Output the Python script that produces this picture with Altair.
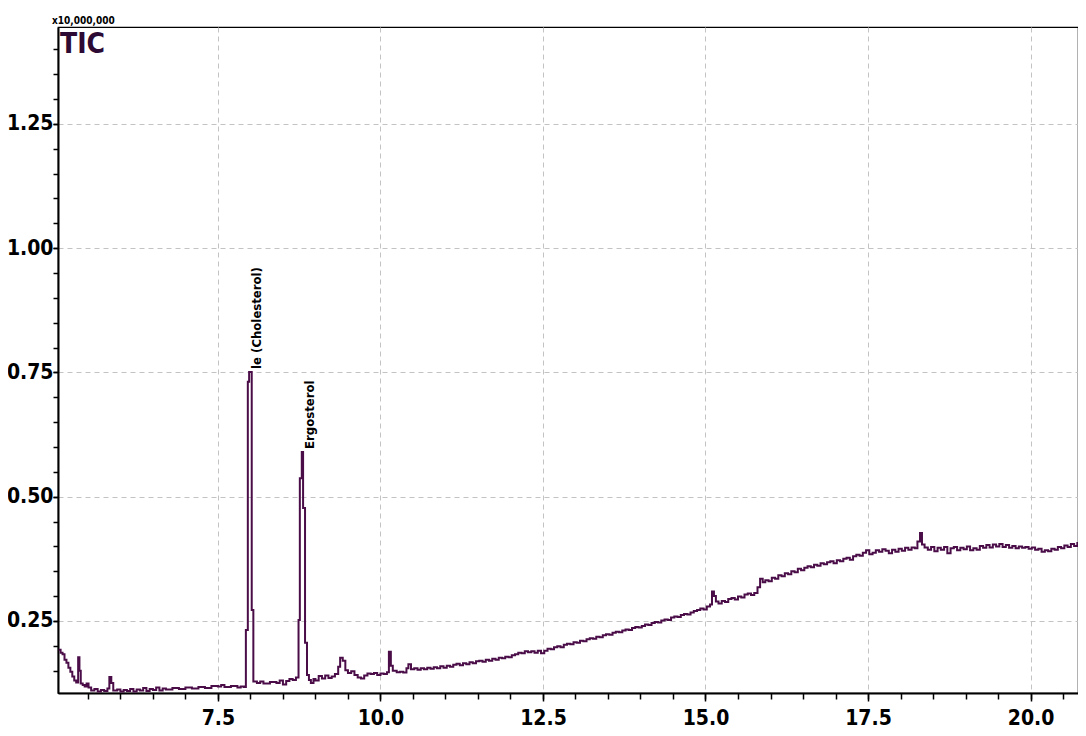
import altair as alt
import pandas as pd

# retention time (min)
times = [
    5.05, 5.08, 5.11, 5.14, 5.17, 5.20, 5.23, 5.26, 5.29, 5.32, 5.35, 5.37, 5.39, 5.42, 5.45, 5.48,
    5.51, 5.55, 5.60, 5.65, 5.70, 5.75, 5.80, 5.83, 5.86, 5.89, 5.95, 6.00, 6.05, 6.10, 6.15, 6.20,
    6.25, 6.30, 6.35, 6.40, 6.45, 6.50, 6.55, 6.60, 6.65, 6.70, 6.80, 6.90, 7.00, 7.10, 7.20, 7.30,
    7.40, 7.50, 7.55, 7.60, 7.70, 7.80, 7.85, 7.90, 7.93, 7.96, 7.98, 8.01, 8.02, 8.045, 8.10, 8.15,
    8.20, 8.30, 8.40, 8.45, 8.50, 8.55, 8.60, 8.65, 8.70, 8.74, 8.76, 8.79, 8.81, 8.84, 8.87, 8.90,
    8.93, 8.97, 9.00, 9.05, 9.10, 9.15, 9.20, 9.25, 9.30, 9.35, 9.38, 9.42, 9.46, 9.50, 9.55, 9.60,
    9.65, 9.70, 9.75, 9.80, 9.85, 9.90, 9.95, 10.00, 10.05, 10.10, 10.13, 10.16, 10.19, 10.25, 10.30, 10.35,
    10.40, 10.43, 10.47, 10.52, 10.57, 10.62, 10.67, 10.72, 10.77, 10.82, 10.87, 10.92, 10.97, 11.02, 11.07, 11.12,
    11.17, 11.22, 11.27, 11.32, 11.37, 11.42, 11.47, 11.52, 11.57, 11.62, 11.67, 11.72, 11.77, 11.82, 11.87, 11.92,
    11.97, 12.02, 12.07, 12.12, 12.17, 12.22, 12.27, 12.32, 12.37, 12.42, 12.47, 12.52, 12.57, 12.62, 12.67, 12.72,
    12.77, 12.82, 12.87, 12.92, 12.97, 13.02, 13.07, 13.12, 13.17, 13.22, 13.27, 13.32, 13.37, 13.42, 13.47, 13.52,
    13.57, 13.62, 13.67, 13.72, 13.77, 13.82, 13.87, 13.92, 13.97, 14.02, 14.07, 14.12, 14.17, 14.22, 14.27, 14.32,
    14.37, 14.42, 14.47, 14.52, 14.57, 14.62, 14.67, 14.72, 14.77, 14.82, 14.87, 14.92, 14.97, 15.02, 15.07, 15.10,
    15.13, 15.16, 15.20, 15.25, 15.30, 15.35, 15.40, 15.45, 15.50, 15.55, 15.60, 15.65, 15.70, 15.75, 15.80, 15.84,
    15.88, 15.92, 15.97, 16.02, 16.07, 16.12, 16.17, 16.22, 16.27, 16.32, 16.37, 16.42, 16.47, 16.52, 16.57, 16.62,
    16.67, 16.72, 16.77, 16.82, 16.87, 16.92, 16.97, 17.02, 17.07, 17.12, 17.17, 17.22, 17.27, 17.32, 17.37, 17.42,
    17.47, 17.52, 17.57, 17.62, 17.67, 17.72, 17.77, 17.82, 17.87, 17.92, 17.97, 18.02, 18.07, 18.12, 18.17, 18.22,
    18.26, 18.30, 18.33, 18.37, 18.42, 18.47, 18.52, 18.57, 18.62, 18.67, 18.72, 18.77, 18.82, 18.87, 18.92, 18.97,
    19.02, 19.07, 19.12, 19.17, 19.22, 19.27, 19.32, 19.37, 19.42, 19.47, 19.52, 19.57, 19.62, 19.67, 19.72, 19.77,
    19.82, 19.87, 19.92, 19.97, 20.02, 20.07, 20.12, 20.17, 20.22, 20.27, 20.32, 20.37, 20.42, 20.47, 20.52, 20.57,
    20.62, 20.67, 20.72, 20.77, 20.82, 20.86,
]

# total ion current (x10^7 counts)
tic = [
    0.192, 0.186, 0.183, 0.172, 0.166, 0.156, 0.148, 0.138, 0.130, 0.126, 0.177, 0.150, 0.124, 0.121, 0.118, 0.124,
    0.116, 0.110, 0.113, 0.108, 0.111, 0.109, 0.114, 0.137, 0.125, 0.110, 0.112, 0.108, 0.111, 0.109, 0.113, 0.108,
    0.112, 0.110, 0.115, 0.109, 0.113, 0.111, 0.116, 0.110, 0.114, 0.112, 0.115, 0.113, 0.116, 0.114, 0.117, 0.115,
    0.119, 0.118, 0.121, 0.117, 0.119, 0.116, 0.118, 0.117, 0.232, 0.731, 0.751, 0.751, 0.272, 0.128, 0.125, 0.128,
    0.124, 0.127, 0.125, 0.130, 0.122, 0.129, 0.133, 0.131, 0.136, 0.252, 0.537, 0.590, 0.477, 0.206, 0.141, 0.131,
    0.125, 0.133, 0.130, 0.139, 0.134, 0.140, 0.135, 0.138, 0.143, 0.158, 0.176, 0.170, 0.151, 0.145, 0.149, 0.141,
    0.136, 0.134, 0.140, 0.144, 0.143, 0.145, 0.141, 0.144, 0.143, 0.147, 0.188, 0.160, 0.150, 0.147, 0.148, 0.146,
    0.155, 0.163, 0.153, 0.155, 0.152, 0.155, 0.153, 0.156, 0.154, 0.157, 0.155, 0.159, 0.156, 0.160, 0.158, 0.162,
    0.164, 0.161, 0.165, 0.163, 0.167, 0.165, 0.169, 0.170, 0.168, 0.172, 0.170, 0.174, 0.172, 0.176, 0.175, 0.178,
    0.177, 0.181, 0.183, 0.186, 0.185, 0.189, 0.187, 0.189, 0.186, 0.190, 0.185, 0.190, 0.194, 0.193, 0.197, 0.199,
    0.197, 0.202, 0.204, 0.203, 0.207, 0.206, 0.210, 0.209, 0.213, 0.215, 0.214, 0.218, 0.217, 0.221, 0.223, 0.222,
    0.226, 0.228, 0.227, 0.231, 0.233, 0.232, 0.236, 0.238, 0.237, 0.240, 0.243, 0.242, 0.246, 0.248, 0.247, 0.251,
    0.253, 0.252, 0.257, 0.259, 0.258, 0.262, 0.264, 0.263, 0.267, 0.270, 0.272, 0.275, 0.273, 0.279, 0.283, 0.309,
    0.300, 0.289, 0.285, 0.290, 0.288, 0.294, 0.296, 0.293, 0.299, 0.297, 0.303, 0.305, 0.302, 0.306, 0.318, 0.335,
    0.328, 0.332, 0.330, 0.337, 0.335, 0.342, 0.340, 0.346, 0.344, 0.350, 0.348, 0.355, 0.352, 0.357, 0.360, 0.358,
    0.363, 0.361, 0.366, 0.364, 0.368, 0.370, 0.366, 0.372, 0.370, 0.375, 0.377, 0.373, 0.380, 0.383, 0.381, 0.387,
    0.392, 0.384, 0.387, 0.392, 0.389, 0.394, 0.391, 0.386, 0.393, 0.389, 0.395, 0.391, 0.397, 0.393, 0.398, 0.396,
    0.410, 0.427, 0.404, 0.398, 0.393, 0.399, 0.390, 0.397, 0.393, 0.399, 0.386, 0.396, 0.399, 0.392, 0.397, 0.394,
    0.400, 0.392, 0.396, 0.393, 0.401, 0.397, 0.403, 0.398, 0.404, 0.400, 0.405, 0.399, 0.403, 0.397, 0.401, 0.396,
    0.400, 0.397, 0.399, 0.395, 0.398, 0.393, 0.395, 0.389, 0.392, 0.390, 0.395, 0.393, 0.399, 0.396, 0.402, 0.399,
    0.405, 0.401, 0.407, 0.404, 0.411, 0.414,
]

x_tick_values = [5.5, 6.0, 6.5, 7.0, 7.5, 8.0, 8.5, 9.0, 9.5, 10.0, 10.5, 11.0, 11.5, 12.0, 12.5, 13.0,
                 13.5, 14.0, 14.5, 15.0, 15.5, 16.0, 16.5, 17.0, 17.5, 18.0, 18.5, 19.0, 19.5, 20.0, 20.5]
x_major_values = [7.5, 10.0, 12.5, 15.0, 17.5, 20.0]
y_tick_values = [0.15, 0.20, 0.25, 0.30, 0.35, 0.40, 0.45, 0.50, 0.55, 0.60, 0.65, 0.70, 0.75, 0.80,
                 0.85, 0.90, 0.95, 1.00, 1.05, 1.10, 1.15, 1.20, 1.25, 1.30, 1.35, 1.40]
y_major_values = [0.25, 0.50, 0.75, 1.00, 1.25]

peak_names = ["le (Cholesterol)", "Ergosterol"]
peak_times = [7.98, 8.79]
peak_heights = [0.751, 0.590]

trace_name = ["TIC"]
scale_label = ["x10,000,000"]

FONT = "Liberation Sans Narrow, Arial Narrow, DejaVu Sans Condensed, Liberation Sans, sans-serif"
LINE = "#4a0d48"
GRID = "#c3c3c3"

df = pd.DataFrame({"t": times, "v": tic})
peaks = pd.DataFrame({"name": peak_names, "t": peak_times, "v": peak_heights})

x_scale = alt.Scale(domain=[5.04, 20.73], nice=False, zero=False)
y_scale = alt.Scale(domain=[0.105, 1.445], nice=False, zero=False)

label_style = dict(labelFont=FONT, labelFontSize=21, labelFontWeight="bold", labelColor="black",
                   labelOverlap=False, labelBound=False, labelFlush=False)

# major axes: labels + grid
line = alt.Chart(df).mark_line(
    interpolate="step-after", color=LINE, strokeWidth=2, clip=True
).encode(
    x=alt.X("t:Q", scale=x_scale, axis=alt.Axis(
        values=x_major_values, format=".1f", title=None, orient="bottom",
        grid=True, gridDash=[5, 4], gridColor=GRID, gridWidth=1,
        tickSize=8, tickColor="black", tickWidth=1.5,
        domainColor="black", domainWidth=2, labelPadding=6, **label_style,
    )),
    y=alt.Y("v:Q", scale=y_scale, axis=alt.Axis(
        values=y_major_values, format=".2f", title=None, orient="left",
        grid=True, gridDash=[5, 4], gridColor=GRID, gridWidth=1,
        tickSize=5, tickColor="black", tickWidth=1.5,
        domainColor="black", domainWidth=2, labelPadding=0, **label_style,
    )),
)

# minor ticks: a second, label-less axis on each side
minor = alt.Chart(df).mark_point(opacity=0).encode(
    x=alt.X("t:Q", scale=x_scale, axis=alt.Axis(
        values=x_tick_values, labels=False, grid=False, domain=False, title=None, orient="bottom",
        tickSize=6, tickColor="black", tickWidth=1.5,
    )),
    y=alt.Y("v:Q", scale=y_scale, axis=alt.Axis(
        values=y_tick_values, labels=False, grid=False, domain=False, title=None, orient="left",
        tickSize=5, tickColor="black", tickWidth=1.5,
    )),
)

ann = alt.Chart(peaks).mark_text(
    angle=270, align="left", baseline="middle", dx=3, dy=8,
    font=FONT, fontSize=13, fontWeight="bold", color="black"
).encode(
    x=alt.X("t:Q", scale=x_scale, axis=None),
    y=alt.Y("v:Q", scale=y_scale, axis=None),
    text="name:N",
)

tic_label = alt.Chart(pd.DataFrame({"label": trace_name})).mark_text(
    align="left", baseline="top", font=FONT, fontSize=28, fontWeight="bold", color="#2d0a33"
).encode(x=alt.value(2), y=alt.value(4), text="label:N")

header = alt.Chart(pd.DataFrame({"label": scale_label})).mark_text(
    align="left", baseline="bottom", font=FONT, fontSize=10, fontWeight="bold", color="black"
).encode(x=alt.value(-6), y=alt.value(-1), text="label:N")

chart = alt.layer(line, minor, ann, tic_label, header).resolve_axis(
    x="independent", y="independent"
).properties(
    width=1020, height=666,
    autosize=alt.AutoSizeParams(type="none"),
    padding={"left": 50, "top": 19, "right": 0, "bottom": 35},
).configure_view(stroke="black", strokeWidth=1.2)

chart.save("out.html", embed_options={"renderer": "svg", "actions": False})
